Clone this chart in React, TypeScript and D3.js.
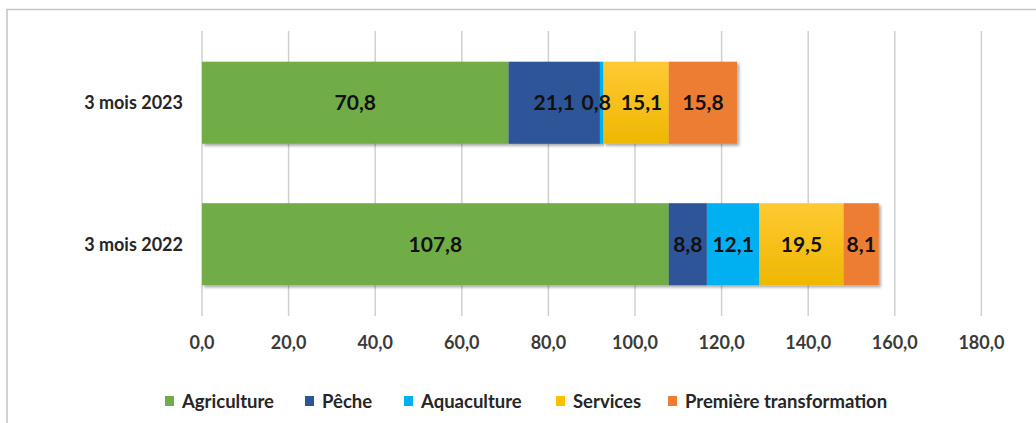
import { useMemo } from 'react';
import * as d3 from 'd3';

const categories = ['3 mois 2023', '3 mois 2022'];
const seriesNames = ['Agriculture', 'Pêche', 'Aquaculture', 'Services', 'Première transformation'];
const agriculture = [70.8, 107.8];
const peche = [21.1, 8.8];
const aquaculture = [0.8, 12.1];
const services = [15.1, 19.5];
const premiereTransformation = [15.8, 8.1];
const xTicks = [0, 20, 40, 60, 80, 100, 120, 140, 160, 180];

const COLORS = ['#70AD47', '#2F5597', '#00B0F0', '#FFC000', '#ED7D31'];
const FONT = 'Lato, "Open Sans", sans-serif';
const LABEL_SIZE = 21;

const W = 1036;
const H = 423;
const LEGEND_X = [165, 305, 404, 556, 668];

const fmt = (v: number) => d3.format('.1f')(v).replace('.', ',');

// rough text width, used to keep data labels from running into each other
const ctx = typeof document !== 'undefined' ? document.createElement('canvas').getContext('2d') : null;
function textWidth(s: string) {
  if (!ctx) return s.length * LABEL_SIZE * 0.55;
  ctx.font = `bold ${LABEL_SIZE}px Lato`;
  return ctx.measureText(s).width;
}

export default function App() {
  const rows = useMemo(
    () =>
      categories.map((c, i) => ({
        cat: c,
        [seriesNames[0]]: agriculture[i],
        [seriesNames[1]]: peche[i],
        [seriesNames[2]]: aquaculture[i],
        [seriesNames[3]]: services[i],
        [seriesNames[4]]: premiereTransformation[i],
      })),
    []
  );

  const stacked = useMemo(() => d3.stack<any>().keys(seriesNames)(rows), [rows]);

  const x = d3.scaleLinear().domain([0, 180]).range([202, 981.4]);
  const y = d3.scaleBand().domain(categories).range([31, 316]).paddingInner(0.42).paddingOuter(0.217);
  const bw = y.bandwidth();

  // label positions per row, nudged apart where they overlap
  const labels = categories.map((c, i) => {
    const ls = stacked.map((s) => {
      const d = s[i];
      const txt = fmt(d[1] - d[0]);
      return { key: s.key + i, txt, cx: (x(d[0]) + x(d[1])) / 2, w: textWidth(txt) };
    });
    const gap = 10;
    for (let k = 0; k < ls.length - 1; k++) {
      const a = ls[k];
      const b = ls[k + 1];
      const need = a.w / 2 + b.w / 2 + gap;
      const have = b.cx - a.cx;
      if (have < need) {
        const push = (need - have) / 2;
        a.cx -= push;
        b.cx += push;
      }
    }
    return ls.map((l) => ({ ...l, cy: (y(c) ?? 0) + bw / 2 }));
  });

  return (
    <div style={{ position: 'absolute', left: 0, top: 0 }}>
      <svg width={W} height={H} style={{ display: 'block', background: '#fff' }}>
        <defs>
          <filter id="shadow" x="-5%" y="-10%" width="115%" height="130%">
            <feDropShadow dx="2" dy="2" stdDeviation="1.5" floodColor="#000" floodOpacity="0.35" />
          </filter>
          <linearGradient id="g-services" x1="0" y1="0" x2="0" y2="1">
            <stop offset="0" stopColor="#FFC935" />
            <stop offset="1" stopColor="#EDB800" />
          </linearGradient>
        </defs>

        {/* outer frame */}
        <path d={`M7,${H} L7,9.5 L${W},9.5`} fill="none" stroke="#c4c4c4" strokeWidth={1.5} />

        {/* gridlines */}
        {xTicks.map((t) => (
          <line key={t} x1={x(t)} x2={x(t)} y1={31} y2={316} stroke="#d0d0d0" strokeWidth={1.5} />
        ))}

        {/* bars */}
        {stacked.map((s, si) => (
          <g key={s.key}>
            {s.map((d, i) => (
              <rect
                key={i}
                x={x(d[0])}
                y={y(categories[i])}
                width={x(d[1]) - x(d[0])}
                height={bw}
                fill={si === 3 ? 'url(#g-services)' : COLORS[si]}
                filter="url(#shadow)"
              />
            ))}
          </g>
        ))}

        {/* data labels */}
        {labels.flat().map((l) => (
          <text
            key={l.key}
            x={l.cx}
            y={l.cy}
            dy="0.36em"
            textAnchor="middle"
            fontFamily={FONT}
            fontWeight={700}
            fontSize={LABEL_SIZE}
            fill="#111"
          >
            {l.txt}
          </text>
        ))}

        {/* category labels */}
        {categories.map((c) => (
          <text
            key={c}
            x={183}
            y={(y(c) ?? 0) + bw / 2}
            dy="0.36em"
            textAnchor="end"
            fontFamily={FONT}
            fontWeight={700}
            fontSize={18}
            fill="#262626"
          >
            {c}
          </text>
        ))}

        {/* x tick labels */}
        {xTicks.map((t) => (
          <text
            key={t}
            x={x(t)}
            y={343}
            dy="0.36em"
            textAnchor="middle"
            fontFamily={FONT}
            fontWeight={700}
            fontSize={18}
            fill="#3a3a3a"
          >
            {fmt(t)}
          </text>
        ))}

        {/* legend */}
        {seriesNames.map((n, i) => (
          <g key={n} transform={`translate(${LEGEND_X[i]},401)`}>
            <rect x={0} y={-5} width={9} height={10} fill={COLORS[i]} />
            <text x={17} dy="0.36em" fontFamily={FONT} fontWeight={700} fontSize={18.5} fill="#262626">
              {n}
            </text>
          </g>
        ))}
      </svg>
    </div>
  );
}
